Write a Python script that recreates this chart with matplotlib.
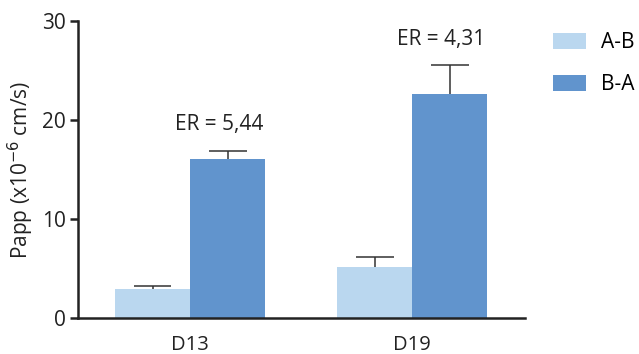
import matplotlib.pyplot as plt
import numpy as np

plt.rcParams['font.family'] = ['Open Sans', 'DejaVu Sans']

# data
groups = ["D13", "D19"]
series = ["A-B", "B-A"]
ab_vals = [2.9, 5.2]
ab_err = [0.33, 1.0]
ba_vals = [16.05, 22.6]
ba_err = [0.85, 3.0]
er_labels = ["ER = 5,44", "ER = 4,31"]
er_heights = [19.5, 28.1]

light = "#BAD7EF"
dark = "#6194CD"
ink = "#222222"

fig = plt.figure(figsize=(6.39, 3.54), dpi=100)
ax = fig.add_axes([0.122, 0.1017, 0.7, 0.839])

x = np.arange(len(groups))
w = 0.338
cap = 0.085

ax.bar(x - w/2, ab_vals, w, color=light, label=series[0])
ax.bar(x + w/2, ba_vals, w, color=dark, label=series[1])

# upper error bars only
for xs, vals, errs in [(x - w/2, ab_vals, ab_err), (x + w/2, ba_vals, ba_err)]:
    for xi, v, e in zip(xs, vals, errs):
        ax.vlines(xi, v, v + e, color="#333333", lw=1.1, zorder=1)
        ax.hlines(v + e, xi - cap, xi + cap, color="#333333", lw=1.1)

for xi, lab, h in zip(x, er_labels, er_heights):
    ax.text(xi + 0.13, h, lab, ha="center", va="center", fontsize=15, color=ink)

ax.set_xlim(-0.505, 1.509)
ax.set_ylim(0, 30)
ax.set_yticks([0, 10, 20, 30])
ax.set_xticks(x)
ax.set_xticklabels(groups)
ax.tick_params(axis="x", length=0, labelsize=14.5, pad=12, colors=ink)
ax.tick_params(axis="y", length=6, width=1.8, labelsize=15, pad=3, colors=ink)
ax.spines["top"].set_visible(False)
ax.spines["right"].set_visible(False)
for s in ["left", "bottom"]:
    ax.spines[s].set_linewidth(1.8)
    ax.spines[s].set_color(ink)

ax.set_ylabel("Papp (x10$^{-6}$ cm/s)", fontsize=15, labelpad=4, color=ink)

ax.legend(loc="upper left", bbox_to_anchor=(1.02, 1.025), frameon=False,
          fontsize=15, handlelength=1.6, handleheight=0.8, labelspacing=1.0,
          handletextpad=0.7)

fig.savefig("out.png", dpi=100)
